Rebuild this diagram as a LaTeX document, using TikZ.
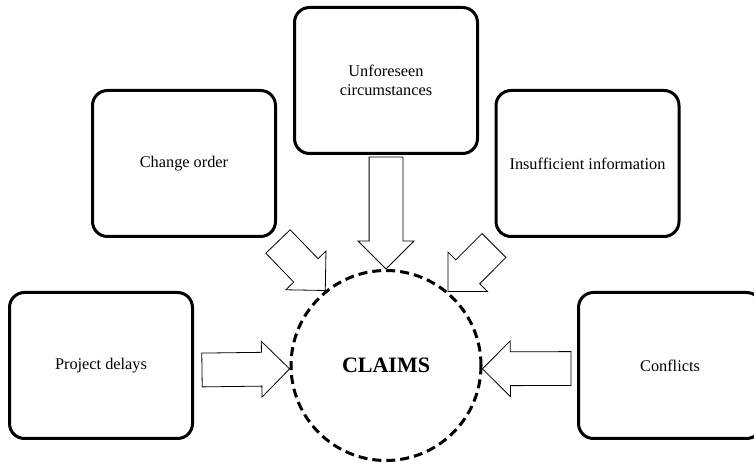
\documentclass[tikz,border=0pt]{standalone}
\usepackage{fontspec}
\setmainfont{Liberation Serif}
\usetikzlibrary{positioning}
\usetikzlibrary{calc}
\usetikzlibrary{shapes.arrows}

%% hollow block arrow from #1 to #2
\newcommand{\blockarrow}[2]{%
  \path let \p1=(#1), \p2=(#2),
    \n1={atan2(\y2-\y1,\x2-\x1)}, \n2={veclen(\x2-\x1,\y2-\y1)} in
    node[fatarrow,rotate=\n1,minimum height=\n2,anchor=tail] at (#1) {};}

\begin{document}
\begin{tikzpicture}
[x=1pt,y=1pt,node distance=285pt,on grid,%
  cause/.style={draw,line width=3pt,rounded corners=15pt,fill=white,
    minimum width=183pt,minimum height=146pt,align=center,
    font=\fontsize{16.3}{19}\selectfont},
  hub/.style={draw,circle,line width=3pt,dash pattern=on 9pt off 5pt,
    minimum size=190pt,font=\fontsize{22}{26}\selectfont\bfseries},
  fatarrow/.style={single arrow,draw,line width=0.8pt,fill=white,
    inner xsep=0pt,inner ysep=16.5pt,outer sep=0pt,
    single arrow head extend=11pt,single arrow tip angle=90}]
\useasboundingbox (0,0) rectangle (754,468);
%% nodes
\node[hub] (claims) at (386,102.5) {CLAIMS};
\node[cause] (unf) [above=of claims] {Unforeseen\\circumstances};
\node[cause] (co) [above left=202pt and 202pt of claims] {Change order};
\node[cause] (ins) [above right=202pt and 201.5pt of claims] {Insufficient information};
\node[cause] (pd) [left=of claims] {Project delays};
\node[cause] (conf) [right=284pt of claims] {Conflicts};
%% arrow ends
\coordinate (unf-out) at ($(unf.south)+(0,-2)$);
\coordinate (co-out) at ($(co.south east)+(1,-3.5)$);
\coordinate (ins-out) at ($(ins.south west)+(-0.5,-7.5)$);
\coordinate (pd-out) at ($(pd.east)+(8,-4.5)$);
\coordinate (conf-out) at ($(conf.west)+(-6,-3)$);
%% arrows
\blockarrow{unf-out}{claims.north}
\blockarrow{co-out}{claims.129}
\blockarrow{ins-out}{claims.50}
\blockarrow{pd-out}{claims.182}
\blockarrow{conf-out}{claims.-2}
\end{tikzpicture}
\end{document}
